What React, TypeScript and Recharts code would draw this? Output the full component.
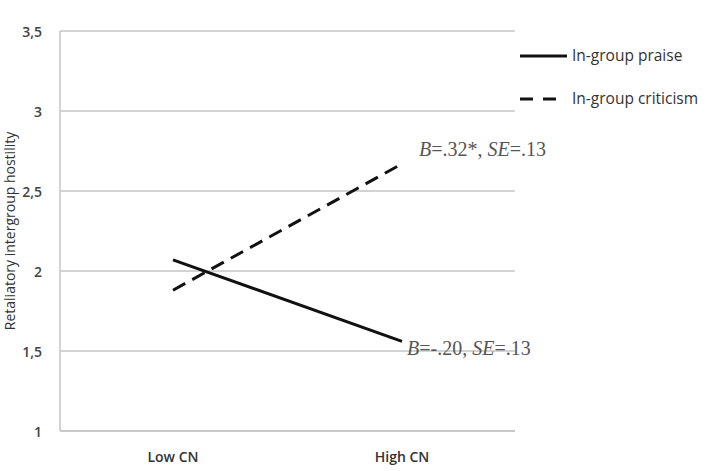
import { LineChart, Line, XAxis, YAxis, CartesianGrid } from 'recharts'

const categories = ['Low CN', 'High CN']
const praise = [2.07, 1.56]
const criticism = [1.88, 2.67]
const yTicks = [1, 1.5, 2, 2.5, 3, 3.5]
const praiseNote = ['B', '=-.20, ', 'SE', '=.13']
const criticismNote = ['B', '=.32*, ', 'SE', '=.13']

const data = categories.map((c, i) => ({ name: c, praise: praise[i], criticism: criticism[i] }))

const FONT = '"Open Sans", sans-serif'
const DASH = '14 8'

function makeNote(parts: string[], dx: number, dy: number) {
  return (props: any) => {
    const { x, y, index } = props
    if (index !== categories.length - 1) return null
    return (
      <text x={x + dx} y={y + dy} fontFamily='"Liberation Serif", serif' fontSize={20} fill="#555">
        <tspan fontStyle="italic">{parts[0]}</tspan>
        <tspan>{parts[1]}</tspan>
        <tspan fontStyle="italic">{parts[2]}</tspan>
        <tspan>{parts[3]}</tspan>
      </text>
    )
  }
}

function YTick(props: any) {
  const { x, y, payload } = props
  return (
    <text
      x={x + 2}
      y={y}
      textAnchor="end"
      dominantBaseline="central"
      fontFamily={FONT}
      fontSize={14}
      fontWeight={600}
      fill="#444"
    >
      {String(payload.value).replace('.', ',')}
    </text>
  )
}

function YTitle(props: any) {
  const { viewBox } = props
  const cx = 9
  const cy = viewBox.y + viewBox.height / 2
  return (
    <text
      x={cx}
      y={cy}
      transform={`rotate(-90 ${cx} ${cy})`}
      textAnchor="middle"
      dominantBaseline="central"
      fontFamily={FONT}
      fontSize={14}
      fill="#333"
    >
      Retaliatory intergroup hostility
    </text>
  )
}

function LegendBox() {
  const items = [
    { label: 'In-group praise', dash: undefined, y: 56, end: 567 },
    { label: 'In-group criticism', dash: '13 10', y: 99, end: 557 },
  ]
  return (
    <g>
      {items.map((it) => (
        <g key={it.label}>
          <line x1={520} x2={it.end} y1={it.y} y2={it.y} stroke="#111" strokeWidth={3} strokeDasharray={it.dash} />
          <text x={572} y={it.y + 5} fontFamily={FONT} fontSize={15.5} fill="#333">{it.label}</text>
        </g>
      ))}
    </g>
  )
}

export default function App() {
  return (
    <div style={{ position: 'absolute', left: 0, top: 0, width: 720, height: 471, background: '#fff' }}>
      <LineChart width={720} height={471} data={data} margin={{ top: 31, right: 205, bottom: 0, left: 0 }}>
        <CartesianGrid vertical={false} stroke="#c4c4c4" strokeWidth={1.5} />
        <XAxis
          dataKey="name"
          padding={{ left: 113, right: 113 }}
          height={40}
          axisLine={{ stroke: '#c4c4c4', strokeWidth: 1.5 }}
          tickLine={false}
          tick={{ fontFamily: FONT, fontSize: 14, fontWeight: 600, fill: '#333' }}
          tickMargin={15}
        />
        <YAxis
          width={60}
          domain={[1, 3.5]}
          ticks={yTicks}
          axisLine={{ stroke: '#c4c4c4', strokeWidth: 1.5 }}
          tickLine={false}
          tick={<YTick />}
          tickMargin={14}
          label={<YTitle />}
        />
        <Line
          dataKey="praise"
          stroke="#111"
          strokeWidth={3}
          dot={false}
          isAnimationActive={false}
          label={makeNote(praiseNote, 5, 14)}
        />
        <Line
          dataKey="criticism"
          stroke="#111"
          strokeWidth={3}
          strokeDasharray={DASH}
          dot={false}
          isAnimationActive={false}
          label={makeNote(criticismNote, 17, -8)}
        />
        <LegendBox />
      </LineChart>
    </div>
  )
}
